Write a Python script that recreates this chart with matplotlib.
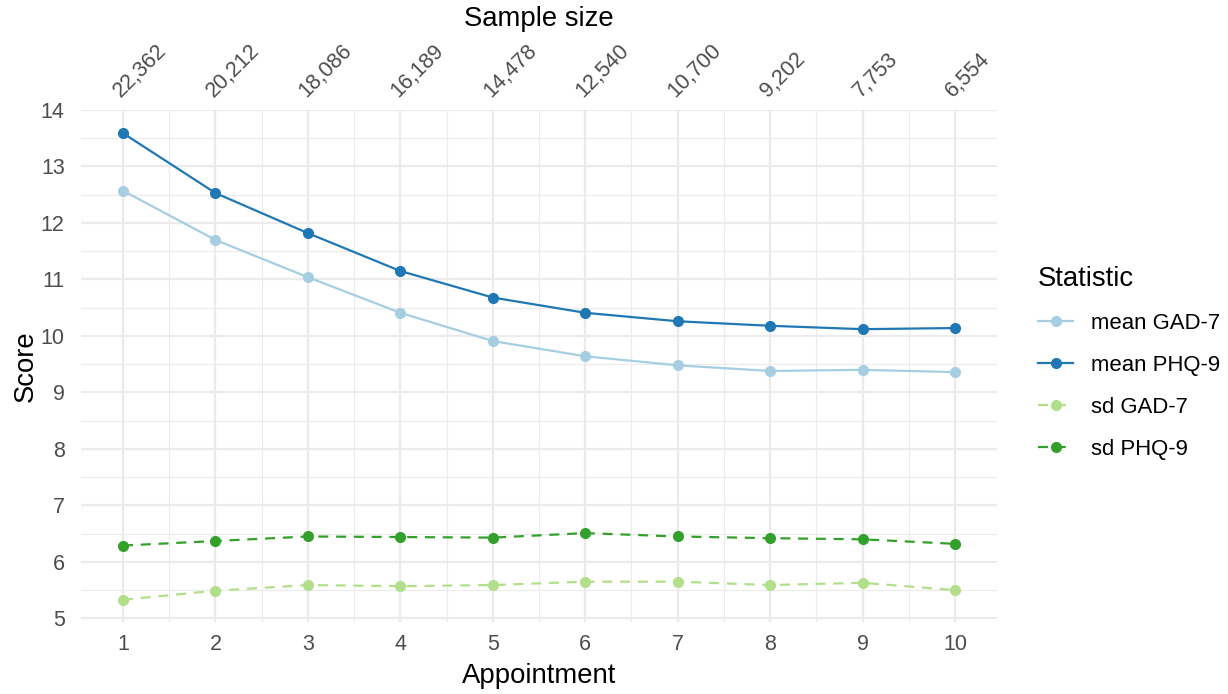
import matplotlib
matplotlib.use("Agg")
import matplotlib.pyplot as plt
import matplotlib.transforms as mtransforms
from matplotlib.lines import Line2D

plt.rcParams['font.family'] = ['Liberation Sans', 'DejaVu Sans']

appointment = [1, 2, 3, 4, 5, 6, 7, 8, 9, 10]
sample_size = ["22,362", "20,212", "18,086", "16,189", "14,478",
               "12,540", "10,700", "9,202", "7,753", "6,554"]
mean_gad7 = [12.57, 11.70, 11.04, 10.41, 9.91, 9.64, 9.48, 9.38, 9.40, 9.36]
mean_phq9 = [13.59, 12.53, 11.82, 11.15, 10.68, 10.41, 10.26, 10.18, 10.12, 10.14]
sd_gad7 = [5.33, 5.49, 5.59, 5.57, 5.59, 5.65, 5.65, 5.59, 5.63, 5.50]
sd_phq9 = [6.29, 6.37, 6.45, 6.44, 6.43, 6.51, 6.45, 6.42, 6.40, 6.32]

series = [
    ("mean GAD-7", mean_gad7, "#A6CEE3", "-"),
    ("mean PHQ-9", mean_phq9, "#1F78B4", "-"),
    ("sd GAD-7", sd_gad7, "#B2DF8A", (0, (4.5, 3.5))),
    ("sd PHQ-9", sd_phq9, "#33A02C", (0, (4.5, 3.5))),
]

W, H = 1228, 694
fig = plt.figure(figsize=(W / 100, H / 100), dpi=100)
left, right, top, bottom = 81.4, 996.6, 110, 621.5
ax = fig.add_axes([left / W, 1 - bottom / H, (right - left) / W, (bottom - top) / H])

grid_col = "#EBEBEB"
ax.set_xlim(0.55, 10.45)
ax.set_ylim(4.945, 14.0)
ax.set_xticks(appointment)
ax.set_yticks(range(5, 15))
ax.set_xticks([x + 0.5 for x in appointment[:-1]], minor=True)
ax.set_yticks([y + 0.5 for y in range(5, 14)], minor=True)
ax.grid(which="major", color=grid_col, linewidth=1.6)
ax.grid(which="minor", color=grid_col, linewidth=0.8)
ax.set_axisbelow(True)
for s in ax.spines.values():
    s.set_visible(False)
ax.tick_params(which="both", length=0)
ax.tick_params(axis="both", labelsize=15.5, labelcolor="#4D4D4D")
ax.tick_params(axis="x", pad=9)
ax.tick_params(axis="y", pad=12)

for name, vals, col, ls in series:
    ax.plot(appointment, vals, color=col, linestyle=ls, linewidth=1.6,
            marker="o", markersize=7.0, label=name)

ax.set_xlabel("Appointment", fontsize=19.8, color="black", labelpad=6)
ax.set_ylabel("Score", fontsize=19.8, color="black", labelpad=1.5)

# top sample size labels
offset = mtransforms.ScaledTranslation(-2 / 100, 12 / 100, fig.dpi_scale_trans)
trans = mtransforms.blended_transform_factory(ax.transData, ax.transAxes) + offset
for x, lab in zip(appointment, sample_size):
    ax.text(x, 1.0, lab, transform=trans, rotation=45, ha="left", va="baseline",
            rotation_mode="anchor", fontsize=15.5, color="#4D4D4D")
fig.text(539 / W, 1 - 19 / H, "Sample size", ha="center", va="center",
         fontsize=19.8, color="black")

# legend
handles = [Line2D([0], [0], color=c, linestyle=ls, linewidth=1.6, marker="o",
                  markersize=7.0) for _, _, c, ls in series]
leg = fig.legend(handles, [s[0] for s in series], title="Statistic",
                 loc="upper left", bbox_to_anchor=(1018 / W, 1 - 246 / H),
                 frameon=False, fontsize=15.9, title_fontsize=19.8,
                 handlelength=1.6, handletextpad=0.8, labelspacing=0.95)
leg._legend_box.align = "left"

fig.savefig("out.png", dpi=100, facecolor="white")
